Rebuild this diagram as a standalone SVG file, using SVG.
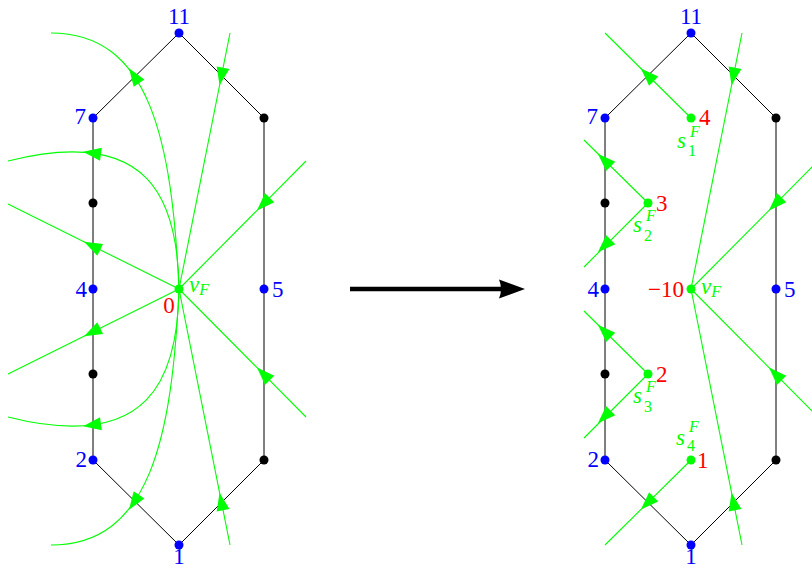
<svg xmlns="http://www.w3.org/2000/svg" xmlns:xlink="http://www.w3.org/1999/xlink" width="812" height="569" viewBox="0 0 812 569">
<style>
.edge{fill:none;stroke:#000;stroke-width:1}
.gl{fill:none;stroke:#00ff00;stroke-width:1.1}
.ah{fill:#00ff00}
.bd{fill:#0000ff}
.kd{fill:#000}
.gd{fill:#00ff00}
text{font-family:"Liberation Serif","DejaVu Serif",serif;font-size:23px}
.bl{fill:#0000ff}
.rd{fill:#ff0000}
.gt{fill:#00ff00;font-style:italic}
.sm{font-size:16px}
.up{font-style:normal}
</style>
<defs>
<path id="ah" d="M10,0 L-8,-6.5 L-8,6.5 Z"/>
</defs>
<rect width="812" height="569" fill="#fff"/>

<!-- left hexagon -->
<g id="hexL">
<path class="edge" d="M179,33 L264,118 L264,460 L179,545 L93,460 L93,118 Z"/>
</g>
<!-- right hexagon -->
<g id="hexR">
<path class="edge" d="M691,33 L776,118 L776,460 L691,545 L605,460 L605,118 Z"/>
</g>

<g id="connectors">
<!-- left green flow lines -->
<path class="gl" d="M179,289 C172,140 150,33 51,33"/>
<path class="gl" d="M179,289 C172,438 150,545 51,545"/>
<path class="gl" d="M179,289 C178,200 150,125 8,161"/>
<path class="gl" d="M179,289 C178,378 150,453 8,417"/>
<path class="gl" d="M179,289 L8,204"/>
<path class="gl" d="M179,289 L8,374"/>
<path class="gl" d="M179,289 L230,33"/>
<path class="gl" d="M179,289 L230,545"/>
<path class="gl" d="M179,289 L306,161"/>
<path class="gl" d="M179,289 L306,417"/>
<use xlink:href="#ah" class="ah" transform="translate(134.6,76.6) rotate(236.1)"/>
<use xlink:href="#ah" class="ah" transform="translate(134.6,501.4) rotate(123.9)"/>
<use xlink:href="#ah" class="ah" transform="translate(93,153.1) rotate(187.9)"/>
<use xlink:href="#ah" class="ah" transform="translate(93,424.9) rotate(172.1)"/>
<use xlink:href="#ah" class="ah" transform="translate(93,246.3) rotate(206.4)"/>
<use xlink:href="#ah" class="ah" transform="translate(93,331.7) rotate(153.6)"/>
<use xlink:href="#ah" class="ah" transform="translate(221.5,75.5) rotate(101.3)"/>
<use xlink:href="#ah" class="ah" transform="translate(221.5,502.5) rotate(258.7)"/>
<use xlink:href="#ah" class="ah" transform="translate(264,203.3) rotate(134.8)"/>
<use xlink:href="#ah" class="ah" transform="translate(264,374.7) rotate(225.2)"/>

<!-- right green flow lines -->
<path class="gl" d="M691,289 L742,33"/>
<path class="gl" d="M691,289 L742,545"/>
<path class="gl" d="M691,289 L818,161"/>
<path class="gl" d="M691,289 L818,417"/>
<path class="gl" d="M691,118 L605,33"/>
<path class="gl" d="M648,203 L584,140"/>
<path class="gl" d="M648,203 L584,267"/>
<path class="gl" d="M648,374 L584,311"/>
<path class="gl" d="M648,374 L584,438"/>
<path class="gl" d="M691,460 L605,545"/>
<use xlink:href="#ah" class="ah" transform="translate(733.5,75.5) rotate(101.3)"/>
<use xlink:href="#ah" class="ah" transform="translate(733.5,502.5) rotate(258.7)"/>
<use xlink:href="#ah" class="ah" transform="translate(776,203.3) rotate(134.8)"/>
<use xlink:href="#ah" class="ah" transform="translate(776,374.7) rotate(225.2)"/>
<use xlink:href="#ah" class="ah" transform="translate(648,75.5) rotate(224.7)"/>
<use xlink:href="#ah" class="ah" transform="translate(605,160.7) rotate(224.6)"/>
<use xlink:href="#ah" class="ah" transform="translate(605,245.3) rotate(135)"/>
<use xlink:href="#ah" class="ah" transform="translate(605,331.7) rotate(224.6)"/>
<use xlink:href="#ah" class="ah" transform="translate(605,416.3) rotate(135)"/>
<use xlink:href="#ah" class="ah" transform="translate(648,502.5) rotate(135.3)"/>

<!-- big transition arrow -->
<path d="M350,289 L506,289" stroke="#000" stroke-width="4.5" fill="none"/>
<path d="M525,289 L499,279.5 Q503,289 499,298.5 Z" fill="#000"/>
</g>

<!-- left nodes -->
<g id="L11"><circle class="bd" cx="179" cy="33" r="4.5"/><text class="bl" x="179" y="24" text-anchor="middle">11</text></g>
<g id="L7"><circle class="bd" cx="93" cy="118" r="4.5"/><text class="bl" x="86" y="124" text-anchor="end">7</text></g>
<g id="L4"><circle class="bd" cx="93" cy="289" r="4.5"/><text class="bl" x="87" y="297" text-anchor="end">4</text></g>
<g id="L2"><circle class="bd" cx="93" cy="460" r="4.5"/><text class="bl" x="87" y="467" text-anchor="end">2</text></g>
<g id="L1"><circle class="bd" cx="179" cy="545" r="4.5"/><text class="bl" x="179" y="564" text-anchor="middle">1</text></g>
<g id="L5"><circle class="bd" cx="264" cy="289" r="4.5"/><text class="bl" x="272" y="297">5</text></g>
<g id="Lb1"><circle class="kd" cx="264" cy="118" r="4.5"/></g>
<g id="Lb2"><circle class="kd" cx="93" cy="203" r="4.5"/></g>
<g id="Lb3"><circle class="kd" cx="93" cy="374" r="4.5"/></g>
<g id="Lb4"><circle class="kd" cx="264" cy="460" r="4.5"/></g>
<g id="LvF"><circle class="gd" cx="179" cy="289" r="4.5"/>
<text class="rd" x="169" y="313" text-anchor="middle">0</text>
<text class="gt" x="189" y="292">v<tspan class="sm" dy="3">F</tspan></text></g>

<!-- right nodes -->
<g id="R11"><circle class="bd" cx="691" cy="33" r="4.5"/><text class="bl" x="691" y="24" text-anchor="middle">11</text></g>
<g id="R7"><circle class="bd" cx="605" cy="118" r="4.5"/><text class="bl" x="598" y="124" text-anchor="end">7</text></g>
<g id="R4"><circle class="bd" cx="605" cy="289" r="4.5"/><text class="bl" x="599" y="297" text-anchor="end">4</text></g>
<g id="R2"><circle class="bd" cx="605" cy="460" r="4.5"/><text class="bl" x="599" y="467" text-anchor="end">2</text></g>
<g id="R1"><circle class="bd" cx="691" cy="545" r="4.5"/><text class="bl" x="691" y="564" text-anchor="middle">1</text></g>
<g id="R5"><circle class="bd" cx="776" cy="289" r="4.5"/><text class="bl" x="784" y="297">5</text></g>
<g id="Rb1"><circle class="kd" cx="776" cy="118" r="4.5"/></g>
<g id="Rb2"><circle class="kd" cx="605" cy="203" r="4.5"/></g>
<g id="Rb3"><circle class="kd" cx="605" cy="374" r="4.5"/></g>
<g id="Rb4"><circle class="kd" cx="776" cy="460" r="4.5"/></g>
<g id="RvF"><circle class="gd" cx="691" cy="289" r="4.5"/>
<text class="rd" x="684" y="297" text-anchor="end">−10</text>
<text class="gt" x="701" y="294">v<tspan class="sm" dy="3">F</tspan></text></g>

<g id="s1"><circle class="gd" cx="691" cy="118" r="4.5"/>
<text class="rd" x="699" y="125">4</text>
<text class="gt" x="677" y="148">s</text><text class="gt sm" x="690" y="137">F</text><text class="gt sm up" x="688" y="156">1</text></g>
<g id="s2"><circle class="gd" cx="648" cy="203" r="4.5"/>
<text class="rd" x="656" y="211">3</text>
<text class="gt" x="633" y="232">s</text><text class="gt sm" x="646" y="221">F</text><text class="gt sm up" x="644" y="241">2</text></g>
<g id="s3"><circle class="gd" cx="648" cy="374" r="4.5"/>
<text class="rd" x="656" y="382">2</text>
<text class="gt" x="633" y="403">s</text><text class="gt sm" x="646" y="392">F</text><text class="gt sm up" x="644" y="412">3</text></g>
<g id="s4"><circle class="gd" cx="691" cy="460" r="4.5"/>
<text class="rd" x="697" y="468">1</text>
<text class="gt" x="676" y="445">s</text><text class="gt sm" x="689" y="432">F</text><text class="gt sm up" x="687" y="451">4</text></g>
</svg>
